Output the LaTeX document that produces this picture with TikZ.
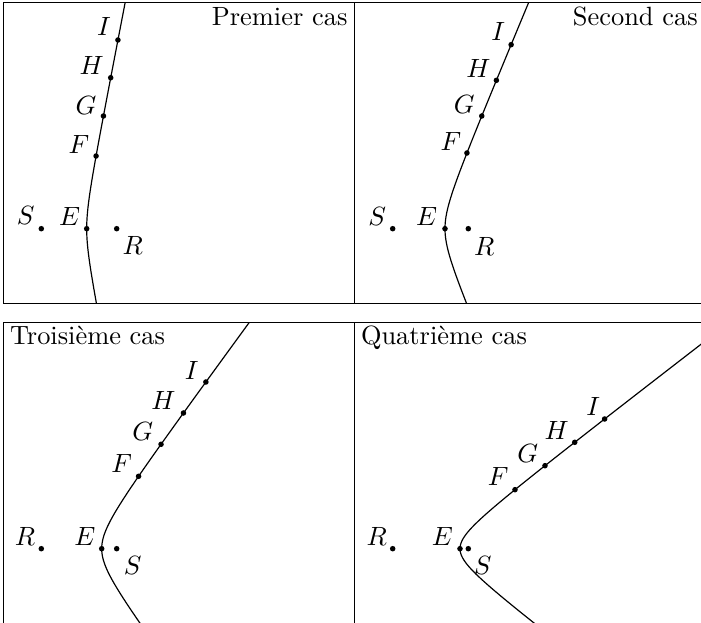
\documentclass[tikz,border=0pt]{standalone}
\usepackage{tikz}
\newcommand\curvept[6]{\coordinate (#1) at ({#2+#4*(sqrt(1+((#6-#3)/#5)^2)-1)},{#6});}
\begin{document}
\begin{tikzpicture}[x=0.3788pt,y=-0.3788pt,
  frame/.style={draw=black,line width=0.4pt},
  curve/.style={draw=black,line width=0.45pt},
  dot/.style={fill=black},
  lab/.style={inner sep=0pt,anchor=center},
  title/.style={inner sep=0pt}]
\clip (0,0) rectangle (701,623);
% frames
\draw[frame] (3.3,2.7) rectangle (354.3,303.7);
\draw[frame] (354.3,2.7) rectangle (707,303.7);
\draw[frame] (3.3,322.3) rectangle (354.3,626);
\draw[frame] (354.3,322.3) rectangle (707,626);
% titles
\node[title,anchor=base east] (t1) at (348,26) {Premier cas};
\node[title,anchor=base east] (t2) at (698.3,26) {Second cas};
\node[title,anchor=base west] (t3) at (9.5,345) {Troisième cas};
\node[title,anchor=base west] (t4) at (360.5,345) {Quatrième cas};
% ---------- panel 1 ----------
\begin{scope}
\clip (3.3,2.7) rectangle (354.3,303.7);
\draw[curve] plot[domain=-232:80,samples=150,variable=\t] ({86.7+6*(sqrt(1+(\t/30.8)^2)-1)},{228.7+\t});
\end{scope}
\coordinate (E1) at (86.7,228.7);
\coordinate (S1) at (41.3,228.7);
\coordinate (R1) at (116.7,228.7);
\curvept{F1}{86.7}{228.7}{6}{30.8}{156}
\curvept{G1}{86.7}{228.7}{6}{30.8}{116}
\curvept{H1}{86.7}{228.7}{6}{30.8}{77.7}
\curvept{I1}{86.7}{228.7}{6}{30.8}{40}
\foreach \p in {E1,S1,R1,F1,G1,H1,I1} \fill[dot] (\p) circle[radius=1.05pt];
\node[lab] (lI1) at (104,26.7) {$I$};
\node[lab] (lH1) at (91.7,65.7) {$H$};
\node[lab] (lG1) at (86,105) {$G$};
\node[lab] (lF1) at (79,144) {$F$};
\node[lab] (lS1) at (25.7,215.7) {$S$};
\node[lab] (lE1) at (69.7,216.7) {$E$};
\node[lab] (lR1) at (132.7,245.7) {$R$};
% ---------- panel 2 ----------
\begin{scope}
\clip (354.3,2.7) rectangle (707,303.7);
\draw[curve] plot[domain=-232:80,samples=150,variable=\t] ({445+12*(sqrt(1+(\t/28.6)^2)-1)},{228.7+\t});
\end{scope}
\coordinate (E2) at (445,228.7);
\coordinate (S2) at (392.7,228.7);
\coordinate (R2) at (468.3,228.7);
\curvept{F2}{445}{228.7}{12}{28.6}{153}
\curvept{G2}{445}{228.7}{12}{28.6}{116}
\curvept{H2}{445}{228.7}{12}{28.6}{80.3}
\curvept{I2}{445}{228.7}{12}{28.6}{44.7}
\foreach \p in {E2,S2,R2,F2,G2,H2,I2} \fill[dot] (\p) circle[radius=1.05pt];
\node[lab] (lI2) at (498.3,31.7) {$I$};
\node[lab] (lH2) at (478.3,68.3) {$H$};
\node[lab] (lG2) at (464.3,104) {$G$};
\node[lab] (lF2) at (451,141.7) {$F$};
\node[lab] (lS2) at (377.3,216) {$S$};
\node[lab] (lE2) at (426.7,216) {$E$};
\node[lab] (lR2) at (484.3,246) {$R$};
% ---------- panel 3 ----------
\begin{scope}
\clip (3.3,322.3) rectangle (354.3,626);
\draw[curve] plot[domain=-232:80,samples=150,variable=\t] ({101.7+20*(sqrt(1+(\t/27.2)^2)-1)},{548.7+\t});
\end{scope}
\coordinate (E3) at (101.7,548.7);
\coordinate (R3) at (41.3,548.7);
\coordinate (S3) at (116.7,548.7);
\curvept{F3}{101.7}{548.7}{20}{27.2}{476.3}
\curvept{G3}{101.7}{548.7}{20}{27.2}{444.3}
\curvept{H3}{101.7}{548.7}{20}{27.2}{413}
\curvept{I3}{101.7}{548.7}{20}{27.2}{382}
\foreach \p in {E3,S3,R3,F3,G3,H3,I3} \fill[dot] (\p) circle[radius=1.05pt];
\node[lab] (lI3) at (191.7,370) {$I$};
\node[lab] (lH3) at (163.3,400.7) {$H$};
\node[lab] (lG3) at (142.7,431.7) {$G$};
\node[lab] (lF3) at (121.7,463.3) {$F$};
\node[lab] (lR3) at (25,536.7) {$R$};
\node[lab] (lE3) at (85,536.7) {$E$};
\node[lab] (lS3) at (132.7,565) {$S$};
% ---------- panel 4 ----------
\begin{scope}
\clip (354.3,322.3) rectangle (707,626);
\draw[curve] plot[domain=-240:80,samples=150,variable=\t] ({460+26*(sqrt(1+(\t/20)^2)-1)},{548.7+\t});
\end{scope}
\coordinate (E4) at (460,548.7);
\coordinate (R4) at (392.7,548.7);
\coordinate (S4) at (468.3,548.7);
\curvept{F4}{460}{548.7}{26}{20}{489.7}
\curvept{G4}{460}{548.7}{26}{20}{465.7}
\curvept{H4}{460}{548.7}{26}{20}{442.3}
\curvept{I4}{460}{548.7}{26}{20}{419}
\foreach \p in {E4,S4,R4,F4,G4,H4,I4} \fill[dot] (\p) circle[radius=1.05pt];
\node[lab] (lI4) at (593.3,406.7) {$I$};
\node[lab] (lH4) at (556.7,430) {$H$};
\node[lab] (lG4) at (527.7,453.3) {$G$};
\node[lab] (lF4) at (498.3,476.7) {$F$};
\node[lab] (lR4) at (376.7,536.7) {$R$};
\node[lab] (lE4) at (442.3,536.7) {$E$};
\node[lab] (lS4) at (482.7,565) {$S$};
\end{tikzpicture}
\end{document}
